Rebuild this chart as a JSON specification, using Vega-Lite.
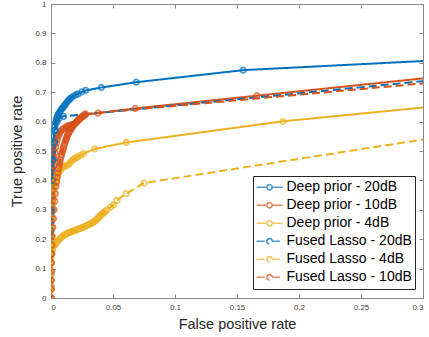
{
  "$schema": "https://vega.github.io/schema/vega-lite/v6.json",
  "width": 372,
  "height": 294,
  "autosize": "none",
  "padding": {"left": 51, "top": 4, "right": 6, "bottom": 39},
  "background": "white",
  "config": {
    "font": "Liberation Sans",
    "view": {"stroke": "#8a8a8a", "strokeWidth": 1},
    "axis": {
      "grid": false,
      "domainColor": "#8a8a8a",
      "domainWidth": 1,
      "tickColor": "#8a8a8a",
      "tickWidth": 1,
      "tickSize": -4,
      "labelFont": "Liberation Sans",
      "labelFontSize": 8,
      "labelColor": "#404040",
      "titleFont": "Liberation Sans",
      "titleFontSize": 14.5,
      "titleFontWeight": "normal",
      "titleColor": "#262626"
    },
    "legend": {
      "orient": "none",
      "legendX": 202,
      "legendY": 172,
      "symbolType": "M-1,0H-0.2M0.2,0H1M-0.2,0A0.2,0.2 0 1,1 0.2,0A0.2,0.2 0 1,1 -0.2,0",
      "symbolSize": 676,
      "symbolStrokeWidth": 1.6,
      "symbolFillColor": "transparent",
      "labelFont": "Liberation Sans",
      "labelFontSize": 14,
      "labelColor": "#000000",
      "labelOffset": 3,
      "clipHeight": 17.5,
      "rowPadding": 0,
      "padding": 2.5,
      "strokeColor": "#262626",
      "fillColor": "white",
      "labelLimit": 300
    }
  },
  "data": {"values": [
    {"s":"Deep prior - 20dB","x":0,"y":0},
    {"s":"Deep prior - 20dB","x":0.00002,"y":0.04},
    {"s":"Deep prior - 20dB","x":0.00004,"y":0.08},
    {"s":"Deep prior - 20dB","x":0.00006,"y":0.12},
    {"s":"Deep prior - 20dB","x":0.0001,"y":0.16},
    {"s":"Deep prior - 20dB","x":0.00015,"y":0.2},
    {"s":"Deep prior - 20dB","x":0.0002,"y":0.23},
    {"s":"Deep prior - 20dB","x":0.0003,"y":0.26},
    {"s":"Deep prior - 20dB","x":0.0004,"y":0.29},
    {"s":"Deep prior - 20dB","x":0.0005,"y":0.32},
    {"s":"Deep prior - 20dB","x":0.0006,"y":0.35},
    {"s":"Deep prior - 20dB","x":0.0008,"y":0.38},
    {"s":"Deep prior - 20dB","x":0.001,"y":0.41},
    {"s":"Deep prior - 20dB","x":0.0012,"y":0.44},
    {"s":"Deep prior - 20dB","x":0.0014,"y":0.47},
    {"s":"Deep prior - 20dB","x":0.0017,"y":0.5},
    {"s":"Deep prior - 20dB","x":0.002,"y":0.525},
    {"s":"Deep prior - 20dB","x":0.0024,"y":0.55},
    {"s":"Deep prior - 20dB","x":0.0028,"y":0.57},
    {"s":"Deep prior - 20dB","x":0.0032,"y":0.585},
    {"s":"Deep prior - 20dB","x":0.0037,"y":0.597},
    {"s":"Deep prior - 20dB","x":0.0042,"y":0.606},
    {"s":"Deep prior - 20dB","x":0.0047,"y":0.613},
    {"s":"Deep prior - 20dB","x":0.0053,"y":0.62},
    {"s":"Deep prior - 20dB","x":0.006,"y":0.626},
    {"s":"Deep prior - 20dB","x":0.0067,"y":0.631},
    {"s":"Deep prior - 20dB","x":0.0075,"y":0.636},
    {"s":"Deep prior - 20dB","x":0.0083,"y":0.641},
    {"s":"Deep prior - 20dB","x":0.0092,"y":0.646},
    {"s":"Deep prior - 20dB","x":0.0102,"y":0.651},
    {"s":"Deep prior - 20dB","x":0.011,"y":0.655},
    {"s":"Deep prior - 20dB","x":0.0118,"y":0.66},
    {"s":"Deep prior - 20dB","x":0.013,"y":0.667},
    {"s":"Deep prior - 20dB","x":0.0142,"y":0.673},
    {"s":"Deep prior - 20dB","x":0.0153,"y":0.677},
    {"s":"Deep prior - 20dB","x":0.0164,"y":0.681},
    {"s":"Deep prior - 20dB","x":0.0182,"y":0.687},
    {"s":"Deep prior - 20dB","x":0.02,"y":0.691},
    {"s":"Deep prior - 20dB","x":0.0218,"y":0.694},
    {"s":"Deep prior - 20dB","x":0.025,"y":0.701},
    {"s":"Deep prior - 20dB","x":0.028,"y":0.706},
    {"s":"Deep prior - 20dB","x":0.0406,"y":0.716},
    {"s":"Deep prior - 20dB","x":0.0688,"y":0.734},
    {"s":"Deep prior - 20dB","x":0.155,"y":0.775},
    {"s":"Deep prior - 20dB","x":1,"y":0.956},

    {"s":"Deep prior - 10dB","x":0,"y":0},
    {"s":"Deep prior - 10dB","x":0.00002,"y":0.03},
    {"s":"Deep prior - 10dB","x":0.00004,"y":0.06},
    {"s":"Deep prior - 10dB","x":0.00006,"y":0.09},
    {"s":"Deep prior - 10dB","x":0.0001,"y":0.12},
    {"s":"Deep prior - 10dB","x":0.00015,"y":0.15},
    {"s":"Deep prior - 10dB","x":0.0002,"y":0.18},
    {"s":"Deep prior - 10dB","x":0.0003,"y":0.21},
    {"s":"Deep prior - 10dB","x":0.0004,"y":0.24},
    {"s":"Deep prior - 10dB","x":0.0005,"y":0.27},
    {"s":"Deep prior - 10dB","x":0.0007,"y":0.3},
    {"s":"Deep prior - 10dB","x":0.0009,"y":0.33},
    {"s":"Deep prior - 10dB","x":0.0012,"y":0.36},
    {"s":"Deep prior - 10dB","x":0.0015,"y":0.39},
    {"s":"Deep prior - 10dB","x":0.0018,"y":0.42},
    {"s":"Deep prior - 10dB","x":0.0022,"y":0.45},
    {"s":"Deep prior - 10dB","x":0.0027,"y":0.475},
    {"s":"Deep prior - 10dB","x":0.0032,"y":0.495},
    {"s":"Deep prior - 10dB","x":0.0038,"y":0.513},
    {"s":"Deep prior - 10dB","x":0.0045,"y":0.528},
    {"s":"Deep prior - 10dB","x":0.0052,"y":0.54},
    {"s":"Deep prior - 10dB","x":0.006,"y":0.551},
    {"s":"Deep prior - 10dB","x":0.0068,"y":0.559},
    {"s":"Deep prior - 10dB","x":0.0077,"y":0.566},
    {"s":"Deep prior - 10dB","x":0.0088,"y":0.572},
    {"s":"Deep prior - 10dB","x":0.0102,"y":0.576},
    {"s":"Deep prior - 10dB","x":0.0115,"y":0.58},
    {"s":"Deep prior - 10dB","x":0.0129,"y":0.584},
    {"s":"Deep prior - 10dB","x":0.0142,"y":0.586},
    {"s":"Deep prior - 10dB","x":0.0156,"y":0.588},
    {"s":"Deep prior - 10dB","x":0.0172,"y":0.59},
    {"s":"Deep prior - 10dB","x":0.0188,"y":0.591},
    {"s":"Deep prior - 10dB","x":0.0208,"y":0.598},
    {"s":"Deep prior - 10dB","x":0.023,"y":0.607},
    {"s":"Deep prior - 10dB","x":0.0253,"y":0.616},
    {"s":"Deep prior - 10dB","x":0.0277,"y":0.623},
    {"s":"Deep prior - 10dB","x":0.0379,"y":0.629},
    {"s":"Deep prior - 10dB","x":0.068,"y":0.645},
    {"s":"Deep prior - 10dB","x":0.166,"y":0.688},
    {"s":"Deep prior - 10dB","x":0.5,"y":0.835},

    {"s":"Deep prior - 4dB","x":0,"y":0},
    {"s":"Deep prior - 4dB","x":0.00002,"y":0.04},
    {"s":"Deep prior - 4dB","x":0.00005,"y":0.08},
    {"s":"Deep prior - 4dB","x":0.0001,"y":0.12},
    {"s":"Deep prior - 4dB","x":0.0002,"y":0.16},
    {"s":"Deep prior - 4dB","x":0.0003,"y":0.2},
    {"s":"Deep prior - 4dB","x":0.0005,"y":0.24},
    {"s":"Deep prior - 4dB","x":0.0008,"y":0.27},
    {"s":"Deep prior - 4dB","x":0.0012,"y":0.3},
    {"s":"Deep prior - 4dB","x":0.0015,"y":0.32},
    {"s":"Deep prior - 4dB","x":0.0018,"y":0.34},
    {"s":"Deep prior - 4dB","x":0.0022,"y":0.357},
    {"s":"Deep prior - 4dB","x":0.0026,"y":0.372},
    {"s":"Deep prior - 4dB","x":0.0031,"y":0.385},
    {"s":"Deep prior - 4dB","x":0.0036,"y":0.396},
    {"s":"Deep prior - 4dB","x":0.0042,"y":0.405},
    {"s":"Deep prior - 4dB","x":0.0048,"y":0.413},
    {"s":"Deep prior - 4dB","x":0.0055,"y":0.42},
    {"s":"Deep prior - 4dB","x":0.0063,"y":0.427},
    {"s":"Deep prior - 4dB","x":0.0071,"y":0.433},
    {"s":"Deep prior - 4dB","x":0.008,"y":0.438},
    {"s":"Deep prior - 4dB","x":0.009,"y":0.443},
    {"s":"Deep prior - 4dB","x":0.0105,"y":0.447},
    {"s":"Deep prior - 4dB","x":0.0117,"y":0.449},
    {"s":"Deep prior - 4dB","x":0.0129,"y":0.451},
    {"s":"Deep prior - 4dB","x":0.0145,"y":0.457},
    {"s":"Deep prior - 4dB","x":0.0161,"y":0.463},
    {"s":"Deep prior - 4dB","x":0.0175,"y":0.469},
    {"s":"Deep prior - 4dB","x":0.0188,"y":0.474},
    {"s":"Deep prior - 4dB","x":0.0203,"y":0.477},
    {"s":"Deep prior - 4dB","x":0.0218,"y":0.48},
    {"s":"Deep prior - 4dB","x":0.024,"y":0.486},
    {"s":"Deep prior - 4dB","x":0.0263,"y":0.491},
    {"s":"Deep prior - 4dB","x":0.0352,"y":0.507},
    {"s":"Deep prior - 4dB","x":0.0607,"y":0.529},
    {"s":"Deep prior - 4dB","x":0.187,"y":0.601},
    {"s":"Deep prior - 4dB","x":1,"y":0.939},

    {"s":"Fused Lasso - 20dB","x":0,"y":0},
    {"s":"Fused Lasso - 20dB","x":0.0001,"y":0.15},
    {"s":"Fused Lasso - 20dB","x":0.0005,"y":0.3},
    {"s":"Fused Lasso - 20dB","x":0.001,"y":0.4},
    {"s":"Fused Lasso - 20dB","x":0.0018,"y":0.47},
    {"s":"Fused Lasso - 20dB","x":0.0027,"y":0.53},
    {"s":"Fused Lasso - 20dB","x":0.0037,"y":0.57},
    {"s":"Fused Lasso - 20dB","x":0.005,"y":0.6},
    {"s":"Fused Lasso - 20dB","x":0.0065,"y":0.612},
    {"s":"Fused Lasso - 20dB","x":0.0102,"y":0.618},
    {"s":"Fused Lasso - 20dB","x":0.5,"y":0.82},

    {"s":"Fused Lasso - 4dB","x":0,"y":0},
    {"s":"Fused Lasso - 4dB","x":0.00002,"y":0.03},
    {"s":"Fused Lasso - 4dB","x":0.00005,"y":0.06},
    {"s":"Fused Lasso - 4dB","x":0.0001,"y":0.09},
    {"s":"Fused Lasso - 4dB","x":0.0002,"y":0.12},
    {"s":"Fused Lasso - 4dB","x":0.0004,"y":0.14},
    {"s":"Fused Lasso - 4dB","x":0.0007,"y":0.155},
    {"s":"Fused Lasso - 4dB","x":0.0011,"y":0.165},
    {"s":"Fused Lasso - 4dB","x":0.0016,"y":0.172},
    {"s":"Fused Lasso - 4dB","x":0.0022,"y":0.177},
    {"s":"Fused Lasso - 4dB","x":0.003,"y":0.181},
    {"s":"Fused Lasso - 4dB","x":0.0038,"y":0.185},
    {"s":"Fused Lasso - 4dB","x":0.0046,"y":0.189},
    {"s":"Fused Lasso - 4dB","x":0.0055,"y":0.194},
    {"s":"Fused Lasso - 4dB","x":0.0065,"y":0.198},
    {"s":"Fused Lasso - 4dB","x":0.0075,"y":0.203},
    {"s":"Fused Lasso - 4dB","x":0.0086,"y":0.207},
    {"s":"Fused Lasso - 4dB","x":0.0098,"y":0.211},
    {"s":"Fused Lasso - 4dB","x":0.0111,"y":0.215},
    {"s":"Fused Lasso - 4dB","x":0.0125,"y":0.218},
    {"s":"Fused Lasso - 4dB","x":0.0137,"y":0.221},
    {"s":"Fused Lasso - 4dB","x":0.015,"y":0.223},
    {"s":"Fused Lasso - 4dB","x":0.0162,"y":0.225},
    {"s":"Fused Lasso - 4dB","x":0.0175,"y":0.227},
    {"s":"Fused Lasso - 4dB","x":0.0187,"y":0.229},
    {"s":"Fused Lasso - 4dB","x":0.02,"y":0.231},
    {"s":"Fused Lasso - 4dB","x":0.0212,"y":0.233},
    {"s":"Fused Lasso - 4dB","x":0.0225,"y":0.235},
    {"s":"Fused Lasso - 4dB","x":0.0237,"y":0.237},
    {"s":"Fused Lasso - 4dB","x":0.025,"y":0.239},
    {"s":"Fused Lasso - 4dB","x":0.0262,"y":0.241},
    {"s":"Fused Lasso - 4dB","x":0.0275,"y":0.244},
    {"s":"Fused Lasso - 4dB","x":0.0287,"y":0.246},
    {"s":"Fused Lasso - 4dB","x":0.03,"y":0.249},
    {"s":"Fused Lasso - 4dB","x":0.0312,"y":0.251},
    {"s":"Fused Lasso - 4dB","x":0.0325,"y":0.254},
    {"s":"Fused Lasso - 4dB","x":0.0335,"y":0.256},
    {"s":"Fused Lasso - 4dB","x":0.0344,"y":0.259},
    {"s":"Fused Lasso - 4dB","x":0.0355,"y":0.262},
    {"s":"Fused Lasso - 4dB","x":0.0365,"y":0.266},
    {"s":"Fused Lasso - 4dB","x":0.0375,"y":0.27},
    {"s":"Fused Lasso - 4dB","x":0.0385,"y":0.275},
    {"s":"Fused Lasso - 4dB","x":0.0395,"y":0.279},
    {"s":"Fused Lasso - 4dB","x":0.0405,"y":0.283},
    {"s":"Fused Lasso - 4dB","x":0.0416,"y":0.287},
    {"s":"Fused Lasso - 4dB","x":0.0428,"y":0.291},
    {"s":"Fused Lasso - 4dB","x":0.044,"y":0.295},
    {"s":"Fused Lasso - 4dB","x":0.0452,"y":0.3},
    {"s":"Fused Lasso - 4dB","x":0.048,"y":0.309},
    {"s":"Fused Lasso - 4dB","x":0.0505,"y":0.317},
    {"s":"Fused Lasso - 4dB","x":0.0532,"y":0.332},
    {"s":"Fused Lasso - 4dB","x":0.0607,"y":0.355},
    {"s":"Fused Lasso - 4dB","x":0.075,"y":0.391},
    {"s":"Fused Lasso - 4dB","x":1,"y":1},

    {"s":"Fused Lasso - 10dB","x":0,"y":0},
    {"s":"Fused Lasso - 10dB","x":0.00005,"y":0.03},
    {"s":"Fused Lasso - 10dB","x":0.0001,"y":0.06},
    {"s":"Fused Lasso - 10dB","x":0.0002,"y":0.09},
    {"s":"Fused Lasso - 10dB","x":0.0003,"y":0.12},
    {"s":"Fused Lasso - 10dB","x":0.0005,"y":0.15},
    {"s":"Fused Lasso - 10dB","x":0.0007,"y":0.18},
    {"s":"Fused Lasso - 10dB","x":0.001,"y":0.21},
    {"s":"Fused Lasso - 10dB","x":0.0014,"y":0.24},
    {"s":"Fused Lasso - 10dB","x":0.002,"y":0.27},
    {"s":"Fused Lasso - 10dB","x":0.0025,"y":0.3},
    {"s":"Fused Lasso - 10dB","x":0.003,"y":0.33},
    {"s":"Fused Lasso - 10dB","x":0.0035,"y":0.355},
    {"s":"Fused Lasso - 10dB","x":0.004,"y":0.38},
    {"s":"Fused Lasso - 10dB","x":0.0045,"y":0.395},
    {"s":"Fused Lasso - 10dB","x":0.005,"y":0.41},
    {"s":"Fused Lasso - 10dB","x":0.0055,"y":0.425},
    {"s":"Fused Lasso - 10dB","x":0.006,"y":0.44},
    {"s":"Fused Lasso - 10dB","x":0.0065,"y":0.45},
    {"s":"Fused Lasso - 10dB","x":0.007,"y":0.46},
    {"s":"Fused Lasso - 10dB","x":0.0075,"y":0.47},
    {"s":"Fused Lasso - 10dB","x":0.008,"y":0.48},
    {"s":"Fused Lasso - 10dB","x":0.0085,"y":0.488},
    {"s":"Fused Lasso - 10dB","x":0.009,"y":0.495},
    {"s":"Fused Lasso - 10dB","x":0.0095,"y":0.503},
    {"s":"Fused Lasso - 10dB","x":0.01,"y":0.51},
    {"s":"Fused Lasso - 10dB","x":0.0105,"y":0.518},
    {"s":"Fused Lasso - 10dB","x":0.011,"y":0.525},
    {"s":"Fused Lasso - 10dB","x":0.0115,"y":0.532},
    {"s":"Fused Lasso - 10dB","x":0.012,"y":0.538},
    {"s":"Fused Lasso - 10dB","x":0.0125,"y":0.544},
    {"s":"Fused Lasso - 10dB","x":0.013,"y":0.55},
    {"s":"Fused Lasso - 10dB","x":0.0135,"y":0.555},
    {"s":"Fused Lasso - 10dB","x":0.014,"y":0.56},
    {"s":"Fused Lasso - 10dB","x":0.0148,"y":0.565},
    {"s":"Fused Lasso - 10dB","x":0.0155,"y":0.57},
    {"s":"Fused Lasso - 10dB","x":0.0162,"y":0.575},
    {"s":"Fused Lasso - 10dB","x":0.017,"y":0.58},
    {"s":"Fused Lasso - 10dB","x":0.018,"y":0.586},
    {"s":"Fused Lasso - 10dB","x":0.019,"y":0.592},
    {"s":"Fused Lasso - 10dB","x":0.02,"y":0.597},
    {"s":"Fused Lasso - 10dB","x":0.021,"y":0.602},
    {"s":"Fused Lasso - 10dB","x":0.022,"y":0.606},
    {"s":"Fused Lasso - 10dB","x":0.023,"y":0.61},
    {"s":"Fused Lasso - 10dB","x":0.0242,"y":0.614},
    {"s":"Fused Lasso - 10dB","x":0.0255,"y":0.618},
    {"s":"Fused Lasso - 10dB","x":0.0266,"y":0.622},
    {"s":"Fused Lasso - 10dB","x":0.0277,"y":0.626},
    {"s":"Fused Lasso - 10dB","x":0.5,"y":0.806}
  ]},
  "layer": [
    {
      "mark": {"type": "line", "strokeWidth": 2, "clip": true},
      "encoding": {
        "x": {"field": "x", "type": "quantitative", "scale": {"domain": [0, 0.3]},
              "axis": {"orient": "bottom", "title": "False positive rate", "values": [0,0.05,0.1,0.15,0.2,0.25,0.3], "format": "~g", "labelPadding": 9, "titlePadding": 6}},
        "y": {"field": "y", "type": "quantitative", "scale": {"domain": [0, 1]},
              "axis": {"orient": "left", "title": "True positive rate", "values": [0,0.1,0.2,0.3,0.4,0.5,0.6,0.7,0.8,0.9,1], "format": "~g", "labelPadding": 9, "titlePadding": 10}},
        "color": {"field": "s", "type": "nominal",
          "scale": {"domain": ["Deep prior - 20dB","Deep prior - 10dB","Deep prior - 4dB","Fused Lasso - 20dB","Fused Lasso - 4dB","Fused Lasso - 10dB"],
                    "range": ["#0072BD","#D95319","#EDB120","#0072BD","#EDB120","#D95319"]},
          "legend": {"title": null}},
        "strokeDash": {"field": "s", "type": "nominal",
          "scale": {"domain": ["Deep prior - 20dB","Deep prior - 10dB","Deep prior - 4dB","Fused Lasso - 20dB","Fused Lasso - 4dB","Fused Lasso - 10dB"],
                    "range": [[1,0],[1,0],[1,0],[8,4],[8,4],[8,4]]},
          "legend": {"title": null}}
      }
    },
    {
      "mark": {"type": "point", "filled": false, "size": 30, "strokeWidth": 1.8, "clip": true},
      "encoding": {
        "x": {"field": "x", "type": "quantitative", "axis": {"orient": "top", "labels": false, "title": null, "values": [0,0.05,0.1,0.15,0.2,0.25,0.3], "domain": false}},
        "y": {"field": "y", "type": "quantitative", "axis": {"orient": "right", "labels": false, "title": null, "values": [0,0.1,0.2,0.3,0.4,0.5,0.6,0.7,0.8,0.9,1], "domain": false}},
        "color": {"field": "s", "type": "nominal", "legend": {"title": null}}
      }
    }
  ],
  "resolve": {"axis": {"x": "independent", "y": "independent"}}
}
